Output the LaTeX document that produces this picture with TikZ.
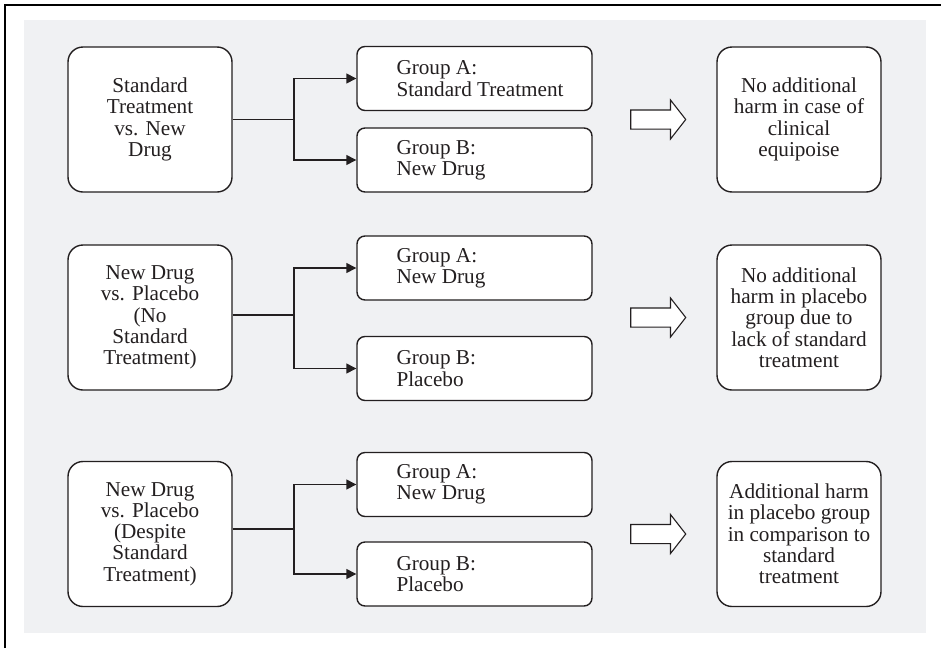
\documentclass[tikz,border=0pt]{standalone}
\usepackage{fontspec}
\setmainfont{Liberation Serif}
\usepackage{xcolor}
\usetikzlibrary{arrows.meta,shapes.arrows,positioning}

\definecolor{ink}{HTML}{231F20}
\definecolor{panel}{HTML}{F0F1F3}

\tikzset{
  studybox/.style={draw=ink, line width=1.4pt, fill=white, rounded corners=15pt,
    minimum width=164pt, minimum height=145pt, align=center, inner sep=0pt, text=ink},
  groupbox/.style={draw=ink, line width=1.4pt, fill=white, rounded corners=8pt,
    minimum width=235pt, minimum height=64pt, inner sep=0pt},
  grouptext/.style={anchor=west, align=left, inner sep=0pt, text=ink},
  link/.style={draw=ink, line width=1.4pt},
  split/.style={link, -{Triangle[length=10pt,width=10pt]}},
  hollow/.style={single arrow, draw=ink, line width=1.1pt, fill=white,
    minimum height=55pt, single arrow head extend=10pt,
    single arrow tip angle=104, inner xsep=0pt, inner ysep=9pt}
}

\begin{document}
\begin{tikzpicture}[x=1pt, y=-1pt, font=\fontsize{21.2}{21.3}\selectfont]
\useasboundingbox (0,0) rectangle (941,648);

% Panel and frame
\fill[panel] (24,20) rectangle (926,633);
\draw[black, line width=2pt] (5,648) -- (5,5) -- (941,5);

% Row 1: standard treatment vs. new drug
\node[studybox] (q1) at (150,119.5) {Standard\\Treatment\\vs. New\\Drug};
\node[groupbox] (a1) at (474.5,78.5) {};
\node[grouptext] (a1t) at ([xshift=40pt]a1.west) {Group A:\\Standard Treatment};
\node[groupbox] (b1) at (474.5,160) {};
\node[grouptext] (b1t) at ([xshift=40pt]b1.west) {Group B:\\New Drug};
\coordinate (j1) at (294,119.5);
\draw[link] (q1.east |- j1) -- (j1);
\draw[split] (j1) |- (a1.west);
\draw[split] (j1) |- (b1.west);
\node[hollow] (h1) at (654.5,119.5) {};
\node[studybox] (r1) at (799,119.5) {No additional\\harm in case of\\clinical\\equipoise};

% Row 2: new drug vs. placebo, no standard treatment
\node[studybox] (q2) at (150,317.5) {New Drug\\vs. Placebo\\(No\\Standard\\Treatment)};
\node[groupbox] (a2) at (474.5,268) {};
\node[grouptext] (a2t) at ([xshift=40pt]a2.west) {Group A:\\New Drug};
\node[groupbox] (b2) at (474.5,368.5) {};
\node[grouptext] (b2t) at ([xshift=40pt]b2.west) {Group B:\\Placebo};
\coordinate (j2) at (294,315);
\draw[link] (q2.east |- j2) -- (j2);
\draw[split] (j2) |- (a2.west);
\draw[split] (j2) |- (b2.west);
\node[hollow] (h2) at (654.5,317.5) {};
\node[studybox] (r2) at (799,317.5) {No additional\\harm in placebo\\group due to\\lack of standard\\treatment};

% Row 3: new drug vs. placebo despite standard treatment
\node[studybox] (q3) at (150,534) {New Drug\\vs. Placebo\\(Despite\\Standard\\Treatment)};
\node[groupbox] (a3) at (474.5,484.5) {};
\node[grouptext] (a3t) at ([xshift=40pt]a3.west) {Group A:\\New Drug};
\node[groupbox] (b3) at (474.5,574) {};
\node[grouptext] (b3t) at ([xshift=40pt]b3.west) {Group B:\\Placebo};
\coordinate (j3) at (294,529);
\draw[link] (q3.east |- j3) -- (j3);
\draw[split] (j3) |- (a3.west);
\draw[split] (j3) |- (b3.west);
\node[hollow] (h3) at (654.5,534) {};
\node[studybox] (r3) at (799,534) {Additional harm\\in placebo group\\in comparison to\\standard\\treatment};
\end{tikzpicture}
\end{document}
